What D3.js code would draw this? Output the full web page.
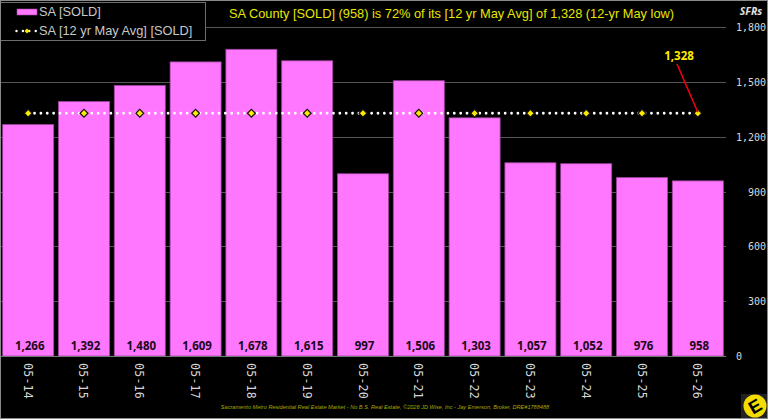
<!DOCTYPE html>
<html>
<head>
<meta charset="utf-8">
<script src="https://cdn.jsdelivr.net/npm/d3@7"></script>
<style>
html,body{margin:0;padding:0;background:#000;}
svg{display:block;}
</style>
</head>
<body>
<div id="chart"></div>
<script>
const categories = ["05-14","05-15","05-16","05-17","05-18","05-19","05-20","05-21","05-22","05-23","05-24","05-25","05-26"];
const soldValues = [1266,1392,1480,1609,1678,1615,997,1506,1303,1057,1052,976,958];
const avgValues = [1328,1328,1328,1328,1328,1328,1328,1328,1328,1328,1328,1328,1328];
const yTicks = [0,300,600,900,1200,1500,1800];
const titleText = "SA County [SOLD] (958) is 72% of its [12 yr May Avg] of 1,328 (12-yr May low)";
const footerText = "Sacramento Metro Residential Real Estate Market - No B.S. Real Estate, ©2026 JD Wise, Inc - Jay Emerson, Broker, DRE#1788488";
const legendBar = "SA [SOLD]";
const legendLine = "SA [12 yr May Avg] [SOLD]";
const calloutLabel = "1,328";
const axisUnit = "SFRs";

const W = 768, H = 419;
const svg = d3.select("#chart").append("svg").attr("width", W).attr("height", H)
  .style("background", "#000");

const x = d3.scaleBand().domain(categories).range([0, 726]).paddingInner(0.086).paddingOuter(0.048);
const y = d3.scaleLinear().domain([0, 1800]).range([356, 27]);
const fmt = d3.format(",");
const sans = "Liberation Sans, Arial, sans-serif";
const mono = "DejaVu Sans Mono, monospace";
const bold = "Open Sans, Noto Sans, sans-serif";
const centre = i => x(categories[i]) + x.bandwidth() / 2;

// horizontal gridlines behind the bars
svg.append("g").selectAll("line").data(yTicks.filter(d => d > 0)).join("line")
  .attr("x1", 0).attr("x2", 726)
  .attr("y1", d => Math.round(y(d)) + 0.5).attr("y2", d => Math.round(y(d)) + 0.5)
  .attr("stroke", "#555").attr("stroke-width", 1);

// bars
svg.append("g").selectAll("rect").data(soldValues).join("rect")
  .attr("x", (d, i) => x(categories[i]))
  .attr("width", x.bandwidth())
  .attr("y", d => y(d))
  .attr("height", d => y(0) - y(d))
  .attr("fill", "#ff76ff")
  .attr("stroke", "#a045a0")
  .attr("stroke-width", 0.8);

// baseline
svg.append("line").attr("x1", 0).attr("x2", 726).attr("y1", 356.5).attr("y2", 356.5)
  .attr("stroke", "#777").attr("stroke-width", 1);

// dotted average line
const avgLine = d3.line().x((d, i) => centre(i)).y(d => y(d));
svg.append("path").attr("d", avgLine(avgValues))
  .attr("fill", "none").attr("stroke", "#fff").attr("stroke-width", 2.8)
  .attr("stroke-linecap", "round").attr("stroke-dasharray", "0.01 6.35");

// diamond markers; the dark outline shows where they sit on a bar
const diamond = d3.symbol().type(d3.symbolDiamond2).size(40);
svg.append("g").selectAll("path").data(avgValues).join("path")
  .attr("d", diamond)
  .attr("transform", (d, i) => `translate(${centre(i)},${y(d)})`)
  .attr("fill", "#ffeb00")
  .attr("stroke", "#111")
  .attr("stroke-width", 1.2);

// value labels at the foot of each bar
svg.append("g").selectAll("text").data(soldValues).join("text")
  .attr("x", (d, i) => centre(i) + 1.5)
  .attr("y", 350)
  .attr("text-anchor", "middle")
  .attr("font-family", bold).attr("font-weight", 700).attr("font-size", 11.5)
  .attr("fill", "#1a0a1a")
  .text(d => fmt(d));

// rotated category labels
svg.append("g").selectAll("text").data(categories).join("text")
  .attr("transform", d => `translate(${x(d) + x.bandwidth() / 2 - 0.5},381) rotate(90)`)
  .attr("text-anchor", "middle").attr("dominant-baseline", "central")
  .attr("font-family", mono).attr("font-size", 11.5).attr("letter-spacing", 0.3)
  .attr("fill", "#d8d8d8")
  .text(d => d);

// value axis labels on the right; the zero sits at the left of the label column
svg.append("g").selectAll("text").data(yTicks).join("text")
  .attr("x", d => d === 0 ? 736 : 766).attr("y", d => y(d) + 4)
  .attr("text-anchor", d => d === 0 ? "start" : "end")
  .attr("font-family", mono).attr("font-size", 10)
  .attr("fill", "#d8d8d8")
  .text(d => fmt(d));

svg.append("text").attr("x", 751).attr("y", 15).attr("text-anchor", "middle")
  .attr("font-family", bold).attr("font-style", "italic").attr("font-weight", 700)
  .attr("font-size", 10.5).attr("fill", "#e0e0e0").text(axisUnit);

// title
svg.append("text").attr("x", 229).attr("y", 18)
  .attr("font-family", sans).attr("font-size", 12.8)
  .attr("fill", "#e6e600").text(titleText);

// callout for the average
svg.append("line")
  .attr("x1", 677).attr("y1", 64).attr("x2", centre(12)).attr("y2", y(avgValues[12]) - 1)
  .attr("stroke", "#ee0010").attr("stroke-width", 1.6);
svg.append("text").attr("x", 679).attr("y", 60).attr("text-anchor", "middle")
  .attr("font-family", bold).attr("font-weight", 700).attr("font-size", 11.5)
  .attr("fill", "#ffeb00").text(calloutLabel);

// legend
const legend = svg.append("g");
legend.append("rect").attr("x", 0.5).attr("y", 2.5).attr("width", 205).attr("height", 38)
  .attr("fill", "#000").attr("stroke", "#6e6e6e");
legend.append("rect").attr("x", 17).attr("y", 9).attr("width", 20).attr("height", 6)
  .attr("fill", "#ff76ff").attr("stroke", "#a045a0").attr("stroke-width", 0.6);
legend.append("text").attr("x", 39).attr("y", 16)
  .attr("font-family", sans).attr("font-size", 12.8).attr("fill", "#c8c8c8").text(legendBar);
legend.append("line").attr("x1", 16.5).attr("x2", 37).attr("y1", 31).attr("y2", 31)
  .attr("stroke", "#fff").attr("stroke-width", 2.4).attr("stroke-linecap", "round")
  .attr("stroke-dasharray", "0.01 6.4");
legend.append("path").attr("d", d3.symbol().type(d3.symbolDiamond2).size(16))
  .attr("transform", "translate(27,31)").attr("fill", "#ffeb00");
legend.append("text").attr("x", 39).attr("y", 35)
  .attr("font-family", sans).attr("font-size", 12.8).attr("fill", "#c8c8c8").text(legendLine);

// footer credit
svg.append("text").attr("x", 385).attr("y", 408.5).attr("text-anchor", "middle")
  .attr("font-family", sans).attr("font-style", "italic").attr("font-size", 5.6)
  .attr("fill", "#a8a800").text(footerText);

// corner badge
const badge = svg.append("g").attr("transform", "translate(755,406)");
badge.append("rect").attr("x", -14).attr("y", -12).attr("width", 27).attr("height", 25).attr("fill", "#222");
badge.append("circle").attr("r", 11.5).attr("fill", "#f5dc00");
badge.append("text").attr("transform", "rotate(-30)").attr("text-anchor", "middle").attr("y", 6.5)
  .attr("font-family", sans).attr("font-weight", 700).attr("font-size", 18).attr("fill", "#000").text("E");

// image frame
svg.append("rect").attr("x", 0.5).attr("y", 0.5).attr("width", W - 1).attr("height", H - 1)
  .attr("fill", "none").attr("stroke", "#8a8a8a");
</script>
</body>
</html>
